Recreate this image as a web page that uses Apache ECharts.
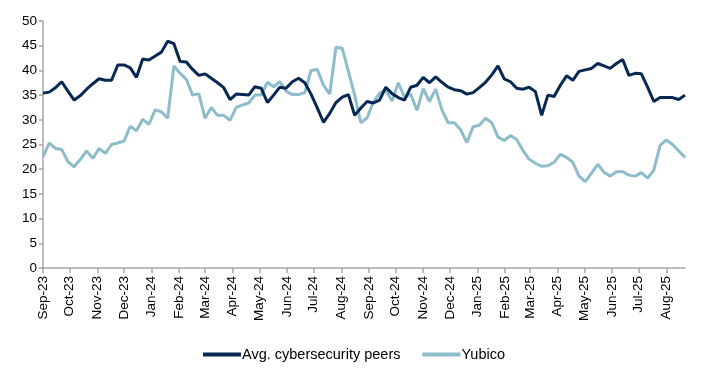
<!DOCTYPE html>
<html>
<head>
<meta charset="utf-8">
<script src="https://cdn.jsdelivr.net/npm/echarts@6/dist/echarts.min.js"></script>
<style>
  html, body { margin: 0; padding: 0; background: #fff; }
  #chart { width: 708px; height: 377px; }
</style>
</head>
<body>
<div id="chart"></div>
<script>
// weekly observations, first week starting 1 Sep 2023
var startDate = Date.UTC(2023, 8, 1);
var weekMs = 7 * 24 * 3600 * 1000;

var monthLabels = ['Sep-23','Oct-23','Nov-23','Dec-23','Jan-24','Feb-24','Mar-24','Apr-24',
  'May-24','Jun-24','Jul-24','Aug-24','Sep-24','Oct-24','Nov-24','Dec-24',
  'Jan-25','Feb-25','Mar-25','Apr-25','May-25','Jun-25','Jul-25','Aug-25'];

var peers = [
  35.4, 35.6, 36.5, 37.7, 35.8, 34.0, 34.9, 36.2, 37.3, 38.3,
  38.0, 38.0, 41.1, 41.1, 40.5, 38.6, 42.3, 42.1, 42.9, 43.7,
  45.9, 45.4, 41.8, 41.7, 40.2, 39.0, 39.3, 38.4, 37.5, 36.5,
  34.1, 35.2, 35.1, 35.0, 36.7, 36.4, 33.5, 35.0, 36.6, 36.4,
  37.7, 38.4, 37.5, 35.2, 32.4, 29.5, 31.3, 33.5, 34.6, 35.1,
  30.9, 32.4, 33.7, 33.4, 34.0, 36.6, 35.3, 34.5, 34.0, 36.6,
  37.0, 38.6, 37.5, 38.7, 37.6, 36.6, 36.1, 35.9, 35.2, 35.5,
  36.5, 37.6, 39.1, 40.9, 38.3, 37.7, 36.4, 36.2, 36.6, 35.7,
  30.9, 35.0, 34.7, 37.0, 38.9, 38.0, 39.8, 40.1, 40.4, 41.4,
  40.9, 40.4, 41.4, 42.2, 39.0, 39.4, 39.3, 36.6, 33.7, 34.5,
  34.5, 34.5, 34.1, 35.0
];

var yubico = [
  22.5, 25.3, 24.2, 24.0, 21.5, 20.5, 22.0, 23.7, 22.2, 24.2,
  23.2, 25.0, 25.3, 25.7, 28.7, 27.8, 30.1, 29.1, 32.0, 31.6,
  30.3, 40.9, 39.4, 38.2, 35.0, 35.3, 30.3, 32.5, 30.9, 30.9,
  29.9, 32.5, 33.0, 33.4, 35.0, 35.0, 37.6, 36.7, 37.7, 35.8,
  35.1, 35.1, 35.5, 40.0, 40.2, 37.0, 35.2, 44.7, 44.5, 39.8,
  35.0, 29.4, 30.4, 33.6, 35.4, 36.0, 33.8, 37.5, 34.6, 35.2,
  31.9, 36.3, 33.7, 36.2, 32.0, 29.4, 29.4, 28.0, 25.4, 28.6,
  28.9, 30.3, 29.4, 26.5, 25.8, 26.8, 26.0, 23.8, 22.0, 21.2,
  20.6, 20.7, 21.4, 23.0, 22.4, 21.4, 18.6, 17.5, 19.2, 21.0,
  19.4, 18.6, 19.5, 19.5, 18.8, 18.6, 19.3, 18.2, 19.8, 24.8,
  25.9, 25.0, 23.7, 22.4
];

var monthNames = ['Jan','Feb','Mar','Apr','May','Jun','Jul','Aug','Sep','Oct','Nov','Dec'];

// month-start positions for ticks / labels
var monthTicks = monthLabels.map(function (lab) {
  var m = monthNames.indexOf(lab.slice(0, 3));
  var y = 2000 + parseInt(lab.slice(4), 10);
  return Date.UTC(y, m, 1);
});

function pairs(vals) {
  return vals.map(function (v, i) { return [startDate + i * weekMs, v]; });
}

var chart = echarts.init(document.getElementById('chart'));
var axisGray = '#a6a6a6';
var font = 'Liberation Sans, Arial, sans-serif';

chart.setOption({
  animation: false,
  grid: { left: 43, right: 23, top: 21, bottom: 109 },
  legend: {
    top: 342,
    left: 'center',
    itemGap: 22,
    itemWidth: 38,
    itemHeight: 4,
    icon: 'rect',
    textStyle: { fontFamily: font, fontSize: 14.5, color: '#000', padding: [0, 0, 0, -4] },
    data: ['Avg. cybersecurity peers', 'Yubico']
  },
  xAxis: {
    type: 'value',
    min: startDate,
    max: startDate + (peers.length - 1) * weekMs,
    splitLine: { show: false },
    axisLine: { show: true, lineStyle: { color: axisGray, width: 1.5 } },
    axisTick: { show: true, length: 5, lineStyle: { color: axisGray, width: 1.5 }, customValues: monthTicks },
    axisLabel: {
      rotate: 90,
      margin: 8,
      fontFamily: font,
      fontSize: 13.5,
      color: '#000',
      customValues: monthTicks,
      formatter: function (v) {
        var d = new Date(v);
        return monthNames[d.getUTCMonth()] + '-' + String(d.getUTCFullYear()).slice(2);
      }
    }
  },
  yAxis: {
    type: 'value',
    min: 0,
    max: 50,
    interval: 5,
    splitLine: { show: false },
    axisLine: { show: true, lineStyle: { color: axisGray, width: 1.5 } },
    axisTick: { show: true, length: 4, lineStyle: { color: axisGray, width: 1.5 } },
    axisLabel: { fontFamily: font, fontSize: 13.5, color: '#000', margin: 6 }
  },
  series: [
    {
      name: 'Avg. cybersecurity peers',
      type: 'line',
      data: pairs(peers),
      symbol: 'none',
      lineStyle: { color: '#062852', width: 3 },
      itemStyle: { color: '#062852' },
      z: 3
    },
    {
      name: 'Yubico',
      type: 'line',
      data: pairs(yubico),
      symbol: 'none',
      lineStyle: { color: '#8dbccb', width: 3 },
      itemStyle: { color: '#8dbccb' },
      z: 2
    }
  ]
});
</script>
</body>
</html>
